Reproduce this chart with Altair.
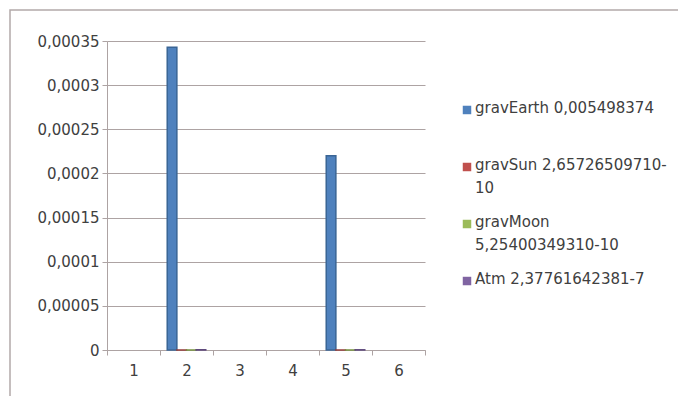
import altair as alt
import pandas as pd

categories = ["1", "2", "3", "4", "5", "6"]
series = ["gravEarth", "gravSun", "gravMoon", "Atm"]
legend_labels = [
    "gravEarth 0,005498374",
    "gravSun 2,65726509710-|10",
    "gravMoon|5,25400349310-10",
    "Atm 2,37761642381-7",
]
bar_categories = ["2", "5"]
grav_earth = [0.000343, 0.00022]
grav_sun = [2.657e-10, 2.657e-10]
grav_moon = [5.254e-10, 5.254e-10]
atm = [2.378e-7, 2.378e-7]
y_ticks = [0, 0.00005, 0.0001, 0.00015, 0.0002, 0.00025, 0.0003, 0.00035]
colors = ["#4F81BD", "#C0504D", "#9BBB59", "#8064A2"]
edge_colors = ["#3A6595", "#943C3A", "#76923F", "#5F4A7C"]

rows = []
for i, c in enumerate(bar_categories):
    for s, vals in zip(series, [grav_earth, grav_sun, grav_moon, atm]):
        rows.append({"cat": c, "series": s, "value": vals[i]})
bars_df = pd.DataFrame(rows)
legend_df = pd.DataFrame({"series": series, "label": legend_labels})

FONT = "DejaVu Sans"
AXIS_COLOR = "#ADA3A3"
TEXT_COLOR = "#404040"

color_scale = alt.Scale(domain=series, range=colors)

border = alt.Chart(pd.DataFrame({"a": [0]})).mark_rect(
    fillOpacity=0, stroke="#B3A9A9", strokeWidth=1.5
).encode(
    x=alt.value(-97), x2=alt.value(720), y=alt.value(-31), y2=alt.value(420)
)

bars = alt.Chart(bars_df).mark_bar(strokeWidth=1.5).encode(
    x=alt.X(
        "cat:N",
        sort=categories,
        scale=alt.Scale(domain=categories, paddingInner=0, paddingOuter=0),
        axis=alt.Axis(
            title=None, labelAngle=0, tickBand="extent", tickSize=5,
            tickColor=AXIS_COLOR, domainColor=AXIS_COLOR, labelPadding=8,
            labelFont=FONT, labelFontSize=15, labelColor=TEXT_COLOR, grid=False,
        ),
    ),
    xOffset=alt.XOffset("series:N", sort=series,
                        scale=alt.Scale(domain=series, paddingOuter=0.75, paddingInner=0)),
    y=alt.Y(
        "value:Q",
        scale=alt.Scale(domain=[0, 0.00035], nice=False),
        axis=alt.Axis(
            title=None, values=y_ticks,
            labelExpr="replace(format(datum.value, '.5~f'), '.', ',')",
            grid=True, gridColor=AXIS_COLOR, domainColor=AXIS_COLOR,
            tickColor=AXIS_COLOR, tickSize=5, labelPadding=3,
            labelFont=FONT, labelFontSize=15, labelColor=TEXT_COLOR,
        ),
    ),
    color=alt.Color("series:N", scale=color_scale, legend=None),
    stroke=alt.Stroke("series:N", scale=alt.Scale(domain=series, range=edge_colors), legend=None),
)

leg_y = alt.Y("series:N", sort=series, axis=None,
              scale=alt.Scale(type="band", domain=series, paddingInner=0, paddingOuter=0.71))

squares = alt.Chart(legend_df).mark_square(size=72, opacity=1).encode(
    x=alt.value(360),
    y=leg_y,
    color=alt.Color("series:N", scale=color_scale, legend=None),
)

texts = alt.Chart(legend_df).mark_text(
    align="left", baseline="top", dy=-9, lineBreak="|", lineHeight=23,
    font=FONT, fontSize=15, color=TEXT_COLOR,
).encode(
    x=alt.value(368),
    y=leg_y,
    text="label:N",
)

chart = alt.layer(border, bars, squares, texts).resolve_scale(
    y="independent"
).properties(
    width=318, height=309,
    autosize=alt.AutoSizeParams(type="none"),
    padding={"left": 107, "top": 41, "right": 253, "bottom": 46},
).configure_view(stroke=None)

chart.save("out.html", embed_options={"renderer": "svg", "actions": False})
